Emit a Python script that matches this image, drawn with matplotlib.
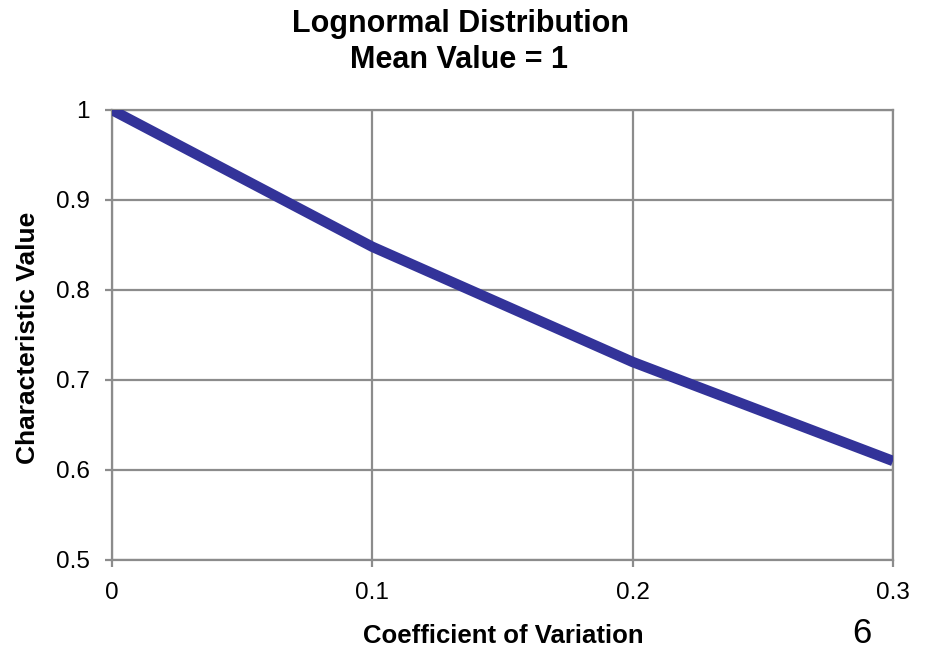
import matplotlib.pyplot as plt

plt.rcParams['font.family'] = ['Liberation Sans', 'DejaVu Sans']

# data
cov = [0.0, 0.1, 0.2, 0.3]
char_value = [1.0, 0.848, 0.72, 0.61]

x_ticks = [0, 0.1, 0.2, 0.3]
x_labels = ['0', '0.1', '0.2', '0.3']
y_ticks = [0.5, 0.6, 0.7, 0.8, 0.9, 1.0]
y_labels = ['0.5', '0.6', '0.7', '0.8', '0.9', '1']

W, H = 929, 650
fig = plt.figure(figsize=(9.29, 6.5), dpi=100)
ax = fig.add_axes([112 / W, 1 - 560 / H, (893 - 112) / W, 450 / H])

ax.plot(cov, char_value, color='#333399', linewidth=7.5, solid_capstyle='butt', zorder=3)

ax.set_xlim(0, 0.3)
ax.set_ylim(0.5, 1.0)
ax.set_xticks(x_ticks)
ax.set_xticklabels(x_labels)
ax.set_yticks(y_ticks)
ax.set_yticklabels(y_labels)
ax.grid(True, color='#8c8c8c', linewidth=1.6)
ax.tick_params(colors='#8c8c8c', labelcolor='black', labelsize=17.5, length=5, width=1.6, pad=11)
for s in ax.spines.values():
    s.set_color('#8c8c8c')
    s.set_linewidth(1.6)

fig.text(461 / W, 1 - 32 / H, 'Lognormal Distribution', ha='center', va='baseline',
         fontsize=22, fontweight='bold')
fig.text(459 / W, 1 - 68 / H, 'Mean Value = 1', ha='center', va='baseline',
         fontsize=22, fontweight='bold')
fig.text(503 / W, 1 - 643 / H, 'Coefficient of Variation', ha='center', va='baseline',
         fontsize=18.5, fontweight='bold')
fig.text(35 / W, 1 - 338 / H, 'Characteristic Value', ha='center', va='baseline',
         rotation=90, rotation_mode='anchor', fontsize=19, fontweight='bold')
fig.text(862 / W, 1 - 643 / H, '6', ha='center', va='baseline', fontsize=25)

fig.savefig('out.png', dpi=100)
